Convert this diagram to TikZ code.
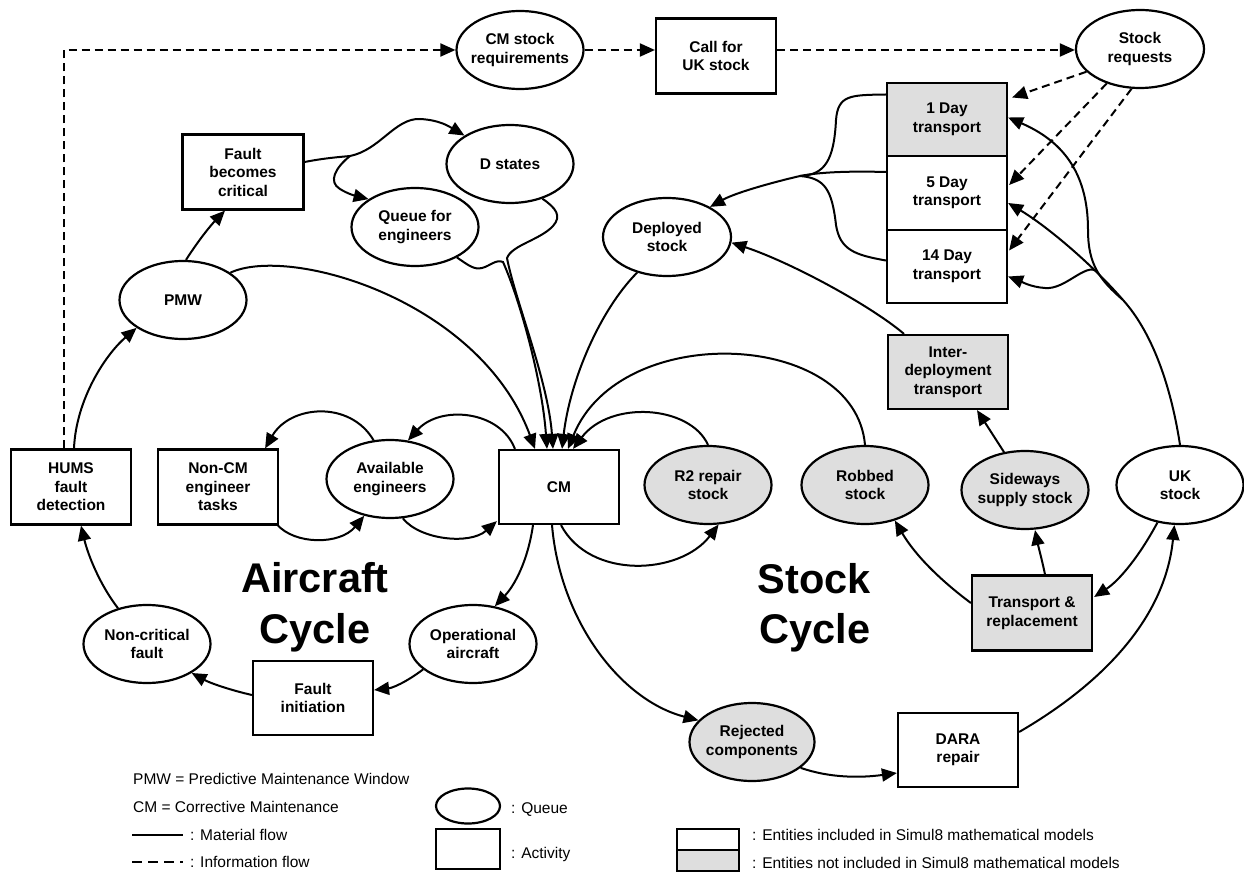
\documentclass[tikz,border=0pt]{standalone}
\usepackage{fontspec}
\setmainfont{Liberation Sans}
\usetikzlibrary{shapes.geometric,arrows.meta,calc}
\definecolor{shade}{gray}{0.87}
\begin{document}
\begin{tikzpicture}[x=1pt,y=-1pt,
  lbl/.style={font=\fontsize{15.5}{18.5}\selectfont\bfseries, align=center},
  q/.style={lbl, ellipse, draw, line width=2.2pt, inner xsep=-20pt, inner ysep=-12pt, minimum width=127pt, minimum height=78pt},
  act/.style={lbl, rectangle, draw, line width=2.2pt, inner sep=0pt, minimum width=120pt, minimum height=74pt},
  shaded/.style={fill=shade},
  flow/.style={line width=2pt, -{Triangle[length=15pt,width=13pt]}},
  info/.style={flow, dash pattern=on 8pt off 5pt},
  link/.style={line width=2pt},
  ttl/.style={font=\fontsize{41.5}{45}\selectfont\bfseries, anchor=base, inner sep=0pt},
  legtext/.style={font=\fontsize{15.5}{18}\selectfont, anchor=west, inner sep=0pt}
]
\useasboundingbox (0,0) rectangle (1244,874);

% ---------- nodes ----------
\node[q] (cmreq) at (520,50) {CM stock\\requirements};
\node[act, minimum height=75pt] (call) at (716,56) {Call for\\UK stock};
\node[q, minimum width=128pt] (sreq) at (1140,49) {Stock\\requests};
\node[act, shaded, minimum height=73pt] (t1) at (947,119.5) {1 Day\\transport};
\node[act, minimum height=74pt] (t5) at (947,193) {5 Day\\transport};
\node[act, minimum height=73pt] (t14) at (947,266.5) {14 Day\\transport};

\node[act, minimum width=121pt, minimum height=75pt] (fault) at (243,172) {Fault\\becomes\\critical};
\node[q] (dstates) at (510,164) {D states};
\node[q] (queue) at (415,227) {Queue for\\engineers};
\node[q] (pmw) at (183,300) {PMW};
\node[q, minimum width=128pt] (deployed) at (667,237) {Deployed\\stock};
\node[act, shaded] (inter) at (948,372) {Inter-\\deployment\\transport};

\node[act, minimum height=75pt] (hums) at (71,487) {HUMS\\fault\\detection};
\node[act, minimum height=75pt] (noncm) at (218,487) {Non-CM\\engineer\\tasks};
\node[q] (avail) at (390,479) {Available\\engineers};
\node[act] (cm) at (559,487) {CM};
\node[q, shaded] (r2) at (708,485) {R2 repair\\stock};
\node[q, shaded] (robbed) at (865,485) {Robbed\\stock};
\node[q, shaded] (sideways) at (1025,490) {Sideways\\supply stock};
\node[q] (uk) at (1180,485) {UK\\stock};
\node[act, shaded, minimum height=75pt] (tr) at (1032,613) {Transport \&\\replacement};

\node[q] (noncrit) at (147,644) {Non-critical\\fault};
\node[q] (opac) at (473,644) {Operational\\aircraft};
\node[act] (finit) at (313,698) {Fault\\initiation};
\node[q, shaded, minimum width=125pt] (rej) at (752,742) {Rejected\\components};
\node[act] (dara) at (958,750) {DARA\\repair};

\node[ttl] (ac1) at (315,592) {Aircraft};
\node[ttl] (ac2) at (315,643) {Cycle};
\node[ttl] (sc1) at (814,593) {Stock};
\node[ttl] (sc2) at (815,643) {Cycle};

% ---------- information flow ----------
\draw[info] ($(hums.north)+(-7,0)$) |- (cmreq.west);
\draw[info] (cmreq.east) -- (cmreq.east -| call.west);
\draw[info] (call.east |- cmreq.east) -- (sreq.west |- cmreq.east);
\draw[info] (sreq.203) -- ($(t1.east)+(4,-22)$);
\draw[info] (sreq.226) -- ($(t5.east)+(1,-8)$);
\draw[info] (sreq.258) -- ($(t14.east)+(1,-16)$);

% ---------- aircraft cycle ----------
\draw[flow] ($(hums.north)+(3,0)$) .. controls (76,400) and (105,355) .. (pmw.211);
\draw[flow] ($(pmw.north)+(3,0)$) .. controls (200,238) and (212,224) .. ($(fault.south)+(-18,0)$);
\draw[flow] (pmw.30) .. controls (290,245) and (480,300) .. ($(cm.north)+(-24,0)$);

\coordinate (fsplit) at (350,156);
\draw[flow] ($(fault.east)+(0,-10)$) .. controls (325,158) and (340,157) .. (fsplit)
  .. controls (380,150) and (395,118) .. (420,119) .. controls (440,120) and (450,127) .. (dstates.148);
\draw[flow] (fsplit) .. controls (335,168) and (328,182) .. (340,189) .. controls (348,194) and (356,196) .. (queue.149);

\draw[flow] (queue.-36) .. controls (468,265) and (474,270) .. (482,268) .. controls (490,266) and (496,259) .. (503,262)
  .. controls (520,300) and (542,380) .. ($(cm.north)+(-12,0)$);
\draw[flow] (dstates.-47) .. controls (556,208) and (562,216) .. (553,226) .. controls (540,240) and (512,245) .. (507,258)
  .. controls (515,300) and (548,380) .. ($(cm.north)+(-6,0)$);

\draw[flow] ($(cm.north west)+(17,0)$) .. controls (500,410) and (440,405) .. (avail.65);
\draw[flow] (avail.-72) .. controls (420,540) and (470,545) .. ($(cm.south west)+(-1,-4)$);
\draw[flow] (avail.113) .. controls (350,400) and (290,405) .. ($(noncm.north east)+(-14,0)$);
\draw[flow] ($(noncm.south east)+(-2,-1)$) .. controls (295,545) and (340,545) .. (avail.235);

\draw[flow] ($(cm.south)+(-26,0)$) .. controls (528,560) and (515,585) .. (opac.60);
\draw[flow] (opac.207) .. controls (405,683) and (392,688) .. ($(finit.east)+(0,-8)$);
\draw[flow] ($(finit.west)+(0,-3)$) .. controls (230,690) and (210,683) .. (noncrit.-33);
\draw[flow] (noncrit.129) .. controls (100,585) and (88,555) .. ($(hums.south)+(10,0)$);

% ---------- stock cycle ----------
\draw[flow] (deployed.-130) .. controls (600,310) and (570,380) .. ($(cm.north)+(3,0)$);
\draw[flow] (robbed.north) .. controls (855,330) and (620,320) .. ($(cm.north)+(9,0)$);
\draw[flow] (r2.north) .. controls (690,405) and (610,400) .. ($(cm.north)+(14,0)$);
\draw[flow] ($(cm.south)+(2,0)$) .. controls (590,580) and (680,575) .. (r2.-75);
\draw[flow] ($(cm.south)+(-7,0)$) .. controls (560,620) and (620,700) .. (rej.158);
\draw[flow] (rej.-28) .. controls (830,778) and (860,778) .. ($(dara.west)+(0,23)$);
\draw[flow] ($(dara.east)+(0,-18)$) .. controls (1100,685) and (1165,620) .. (uk.-98);
\draw[flow] (uk.239) .. controls (1140,555) and (1120,580) .. ($(tr.east)+(1,-16)$);
\draw[flow] ($(tr.west)+(0,-10)$) .. controls (940,580) and (915,555) .. (robbed.-50);
\draw[flow] ($(tr.north)+(13,0)$) .. controls (1042,560) and (1038,545) .. ($(sideways.south)+(10,0)$);
\draw[flow] (sideways.119) -- ($(inter.south)+(29,0)$);
\draw[flow] ($(inter.north)+(-44,0)$) .. controls (870,305) and (790,262) .. (deployed.-5);

\coordinate (tj) at (800,176);
\draw[flow] ($(t5.west)+(0,-21)$) .. controls (850,171) and (820,172) .. (tj) .. controls (770,183) and (735,193) .. (deployed.35);
\draw[link] ($(t1.west)+(0,-25)$) .. controls (850,95) and (838,95) .. (836,120) .. controls (834,160) and (825,175) .. (tj);
\draw[link] ($(t14.west)+(0,-6)$) .. controls (855,255) and (840,250) .. (836,225) .. controls (832,190) and (825,178) .. (tj);

\coordinate (uj) at (1123,300);
\coordinate (uj2) at (1097,271);
\draw[link] (uk.north) .. controls (1170,380) and (1150,330) .. (uj);
\draw[flow] (uj) .. controls (1090,262) and (1045,225) .. ($(t5.east)+(0,10)$);
\draw[flow] (uj) .. controls (1100,280) and (1088,265) .. (1088,230) .. controls (1088,170) and (1060,140) .. ($(t1.east)+(0,-2)$);
\draw[flow] (uj2) .. controls (1085,263) and (1065,290) .. (1045,288) .. controls (1030,287) and (1020,281) .. ($(t14.east)+(0,10)$);

% ---------- legend ----------
\node[legtext] (l1) at (133,779) {PMW = Predictive Maintenance Window};
\node[legtext] (l2) at (133,807) {CM = Corrective Maintenance};
\coordinate (m1) at (132,835); \coordinate (m2) at (183,835);
\draw[link] (m1) -- (m2);
\node[legtext] (l3) at (190,835) {: Material flow};
\coordinate (i1) at (132,862); \coordinate (i2) at (183,862);
\draw[link, dash pattern=on 10pt off 6pt] (i1) -- (i2);
\node[legtext] (l4) at (190,862) {: Information flow};
\node[draw, ellipse, line width=2.2pt, minimum width=64pt, minimum height=35pt, inner sep=0pt] (lq) at (468,806) {};
\node[legtext] (l5) at (511,810) {: Queue};
\node[draw, line width=2.2pt, minimum width=64pt, minimum height=40pt, inner sep=0pt] (la) at (468,849) {};
\node[legtext] (l6) at (511,854) {: Activity};
\node[draw, line width=1.6pt, minimum width=62pt, minimum height=21pt, inner sep=0pt] (lw) at (708,839.5) {};
\node[draw, fill=shade, line width=1.6pt, minimum width=62pt, minimum height=21pt, inner sep=0pt] (lg) at (708,860.5) {};
\node[legtext] (l7) at (752,835) {: Entities included in Simul8 mathematical models};
\node[legtext] (l8) at (752,863) {: Entities not included in Simul8 mathematical models};
\end{tikzpicture}
\end{document}
